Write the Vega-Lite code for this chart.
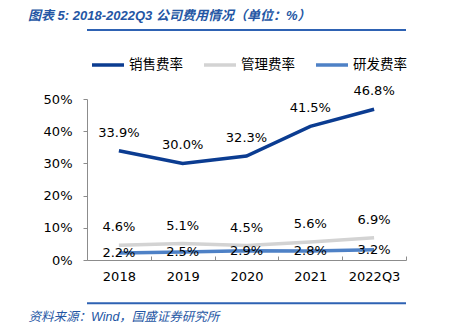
{
  "$schema": "https://vega.github.io/schema/vega-lite/v6.json",
  "width": 319,
  "height": 161,
  "autosize": "none",
  "padding": {"left": 87, "top": 99, "right": 45, "bottom": 67},
  "background": "white",
  "config": {
    "view": {"stroke": null},
    "font": "DejaVu Sans",
    "axisY": {
      "title": null,
      "values": [0, 0.1, 0.2, 0.3, 0.4, 0.5],
      "format": ".0%",
      "labelOverlap": false,
      "labelFont": "DejaVu Sans",
      "labelFontSize": 13,
      "labelColor": "#000000",
      "labelPadding": 11,
      "domain": true,
      "domainColor": "#8c8c8c",
      "ticks": true,
      "tickColor": "#8c8c8c",
      "tickSize": 4,
      "grid": false
    }
  },
  "title": {
    "text": "图表 5: 2018-2022Q3 公司费用情况（单位：%）",
    "anchor": "start",
    "frame": "group",
    "orient": "top",
    "dx": -59,
    "offset": 6,
    "font": "Liberation Sans, Noto Sans CJK SC",
    "fontSize": 13,
    "fontStyle": "italic",
    "fontWeight": "bold",
    "color": "#2456a4"
  },
  "data": {
    "values": [
      {"year": "2018", "series": "销售费率", "value": 0.339},
      {"year": "2019", "series": "销售费率", "value": 0.300},
      {"year": "2020", "series": "销售费率", "value": 0.323},
      {"year": "2021", "series": "销售费率", "value": 0.415},
      {"year": "2022Q3", "series": "销售费率", "value": 0.468},
      {"year": "2018", "series": "管理费率", "value": 0.046},
      {"year": "2019", "series": "管理费率", "value": 0.051},
      {"year": "2020", "series": "管理费率", "value": 0.045},
      {"year": "2021", "series": "管理费率", "value": 0.056},
      {"year": "2022Q3", "series": "管理费率", "value": 0.069},
      {"year": "2018", "series": "研发费率", "value": 0.022},
      {"year": "2019", "series": "研发费率", "value": 0.025},
      {"year": "2020", "series": "研发费率", "value": 0.029},
      {"year": "2021", "series": "研发费率", "value": 0.028},
      {"year": "2022Q3", "series": "研发费率", "value": 0.032}
    ]
  },
  "layer": [
    {
      "mark": {"type": "line", "strokeWidth": 3.5},
      "encoding": {
        "x": {
          "field": "year",
          "type": "nominal",
          "sort": null,
          "scale": {"paddingInner": 0, "paddingOuter": 0},
          "axis": {
            "title": "资料来源：Wind，国盛证券研究所",
            "titleFont": "Liberation Sans, Noto Sans CJK SC",
            "titleFontSize": 12.5,
            "titleFontStyle": "italic",
            "titleFontWeight": "normal",
            "titleColor": "#2456a4",
            "titleAnchor": "start",
            "titleAlign": "left",
            "titleBaseline": "middle",
            "titleX": -59,
            "titleY": 56,
            "labelAngle": 0,
            "labelFont": "DejaVu Sans",
            "labelFontSize": 13,
            "labelColor": "#000000",
            "labelPadding": 14,
            "domainColor": "#8c8c8c",
            "tickColor": "#8c8c8c",
            "tickBand": "extent",
            "tickSize": -4,
            "grid": false
          }
        },
        "y": {
          "field": "value",
          "type": "quantitative",
          "title": null,
          "scale": {"domain": [0, 0.5], "nice": false}
        },
        "color": {
          "field": "series",
          "type": "nominal",
          "scale": {
            "domain": ["销售费率", "管理费率", "研发费率"],
            "range": ["#0b3c91", "#d3d3d3", "#4e81c6"]
          },
          "legend": {
            "title": null,
            "orient": "none",
            "direction": "horizontal",
            "legendX": 3,
            "legendY": -52,
            "symbolType": "stroke",
            "symbolSize": 1024,
            "symbolStrokeWidth": 3.5,
            "labelFont": "Noto Sans CJK SC",
            "labelFontSize": 13.5,
            "labelColor": "#000000",
            "labelOffset": 3,
            "columnPadding": 14
          }
        }
      }
    },
    {
      "transform": [{"filter": "datum.series !== '研发费率'"}],
      "mark": {"type": "text", "dy": -18, "fontSize": 13, "font": "DejaVu Sans", "color": "#000000", "baseline": "middle"},
      "encoding": {
        "x": {"field": "year", "type": "nominal", "sort": null},
        "y": {"field": "value", "type": "quantitative", "title": null},
        "text": {"field": "value", "type": "quantitative", "format": ".1%"}
      }
    },
    {
      "transform": [{"filter": "datum.series === '研发费率'"}],
      "mark": {"type": "text", "dy": 0, "fontSize": 13, "font": "DejaVu Sans", "color": "#000000", "baseline": "middle"},
      "encoding": {
        "x": {"field": "year", "type": "nominal", "sort": null},
        "y": {"field": "value", "type": "quantitative", "title": null},
        "text": {"field": "value", "type": "quantitative", "format": ".1%"}
      }
    },
    {
      "data": {"values": [{"pos": 0.714}, {"pos": -0.134}]},
      "mark": {"type": "rule", "color": "#2e62b3", "strokeWidth": 2, "clip": false},
      "encoding": {
        "y": {"field": "pos", "type": "quantitative", "title": null}
      }
    }
  ]
}
